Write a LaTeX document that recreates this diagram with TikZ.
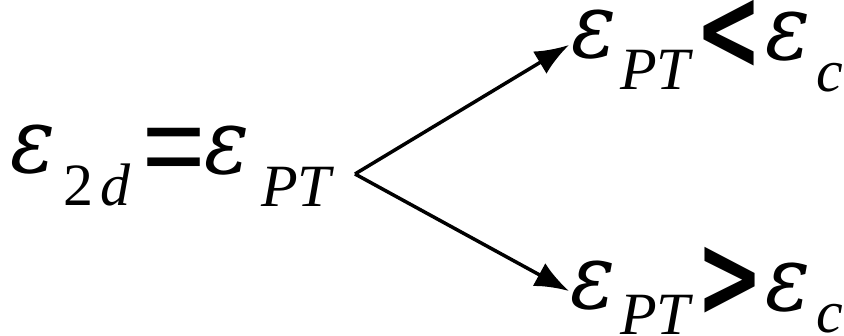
\documentclass[tikz,border=0pt]{standalone}
\usepackage{fontspec}
\usepackage{graphicx}
\setmainfont{DejaVu Serif}
\newfontfamily\subf{Liberation Serif}
\newfontfamily\relf{DejaVu Sans}
\newfontfamily\eqf{Liberation Sans}
\usetikzlibrary{arrows.meta}
\begin{document}
\begin{tikzpicture}[x=1pt,y=-1pt,
  every node/.style={inner sep=0pt, outer sep=0pt},
  eps/.style={anchor=base, font=\itshape\fontsize{84}{84}\selectfont},
  sub/.style={anchor=base west, font=\subf\itshape\fontsize{60}{60}\selectfont},
  releq/.style={anchor=base, font=\eqf\fontsize{108}{108}\selectfont},
  rellg/.style={anchor=base, font=\relf\bfseries\fontsize{80}{80}\selectfont},
  arr/.style={-{Latex[length=34pt,width=26pt]}, line width=3.5pt}]
\useasboundingbox (0,0) rectangle (844,336);
% left expression
\node[eps] (le1) at (33,173) {\scalebox{1}[1.08]{ε}};
\node[sub] (ls1) at (63,206) {{\upshape 2}\hspace{8pt}d};
\node[releq] (leq) at (174,187) {\scalebox{1}[1.1]{=}};
\node[eps] (le2) at (227,174) {\scalebox{1}[1.08]{ε}};
\node[sub] (ls2) at (261,207) {PT};
% top expression
\node[eps] (te1) at (594,58) {\scalebox{1}[1.08]{ε}};
\node[sub] (ts1) at (620,90) {PT};
\node[rellg] (tlt) at (729,70) {\scalebox{1}[1.45]{<}};
\node[eps] (te2) at (788,60) {\scalebox{1}[1.08]{ε}};
\node[sub] (ts2) at (816,92) {c};
% bottom expression
\node[eps] (be1) at (593,309) {\scalebox{1}[1.08]{ε}};
\node[sub] (bs1) at (620,335) {PT};
\node[rellg] (bgt) at (730,317) {\scalebox{1}[1.45]{>}};
\node[eps] (be2) at (788,311) {\scalebox{1}[1.08]{ε}};
\node[sub] (bs2) at (816,333) {c};
% arrows
\coordinate (fork) at (355,174);
\coordinate (tipT) at (569,45);
\coordinate (tipB) at (569,291);
\draw[arr] (fork) -- (tipT);
\draw[arr] (fork) -- (tipB);
\end{tikzpicture}
\end{document}
